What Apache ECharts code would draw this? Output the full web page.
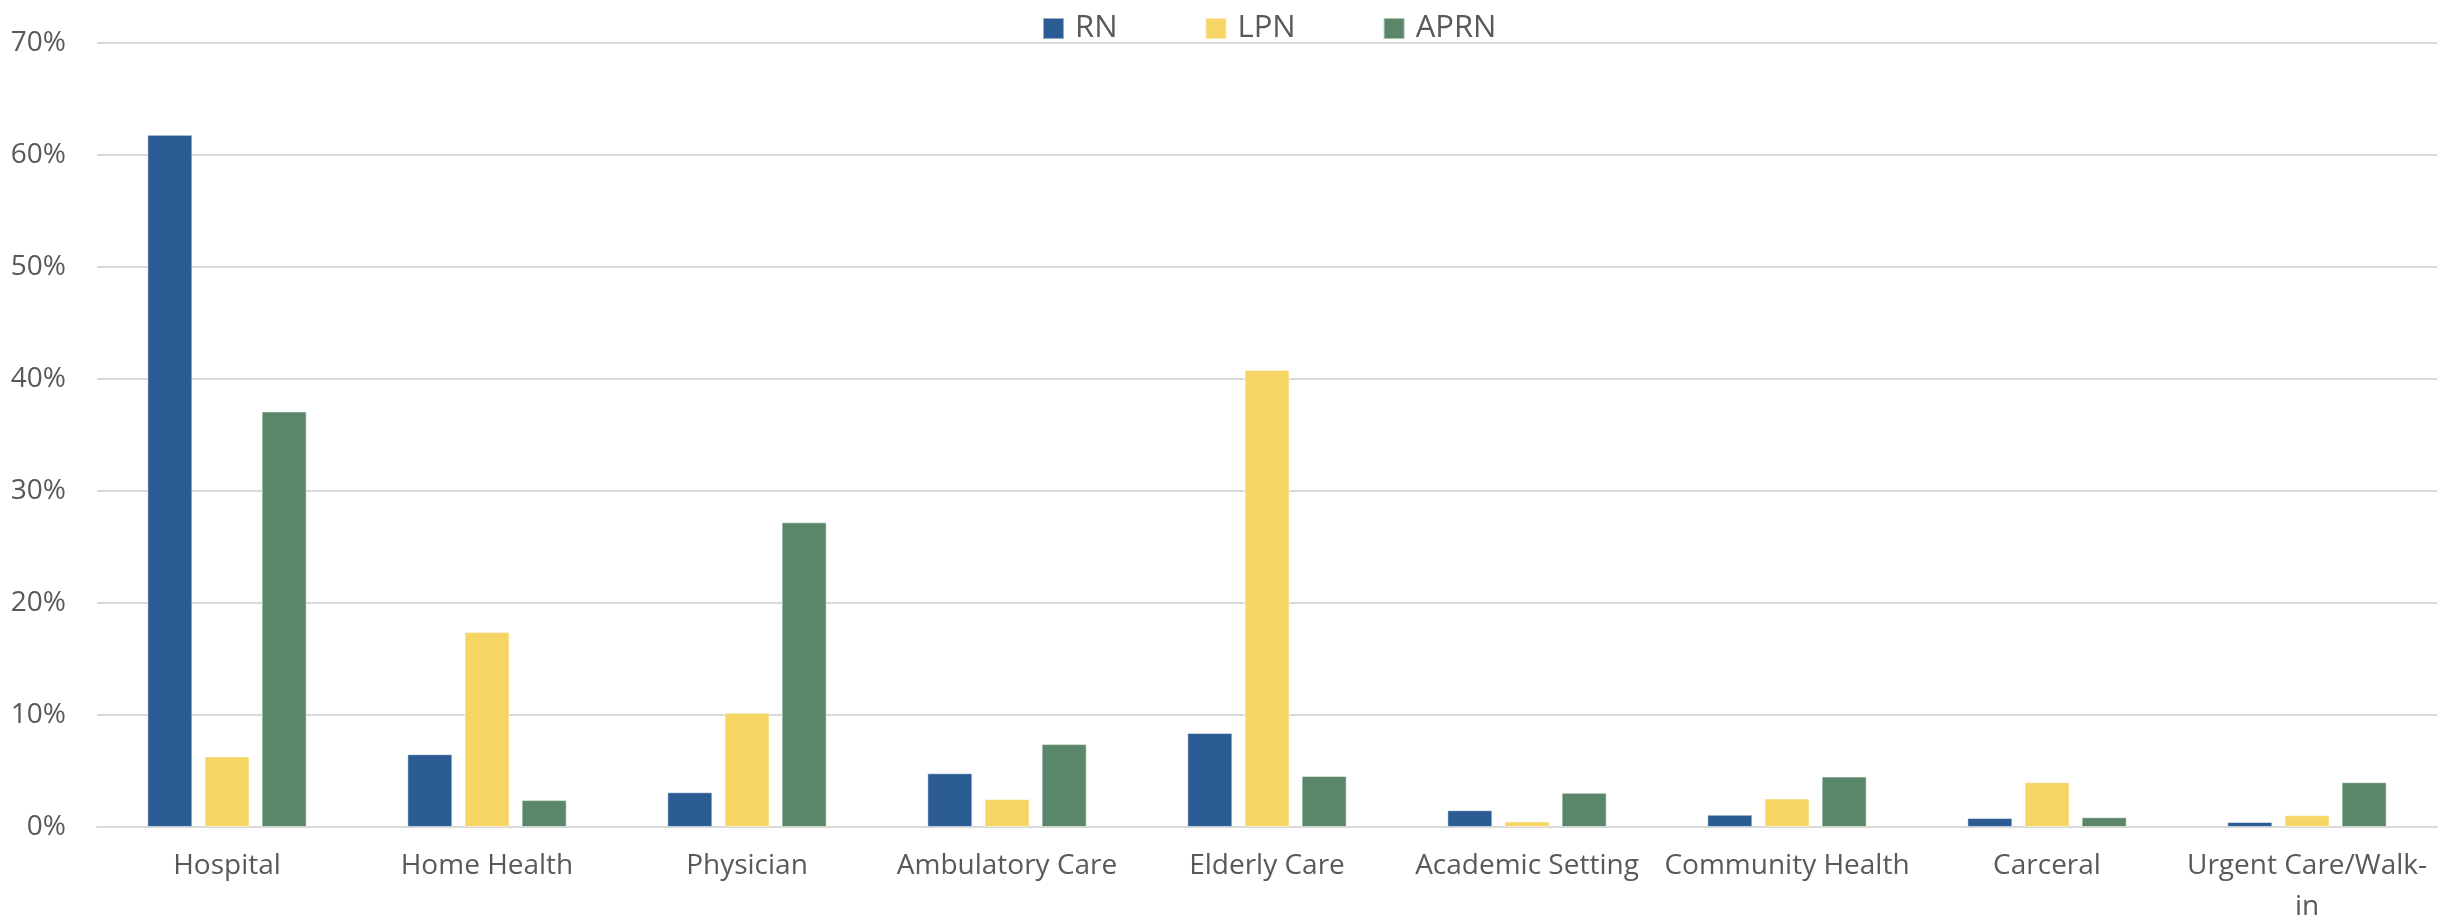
<!DOCTYPE html>
<html>
<head>
	<meta charset="UTF-8">
	<title>Nurse employment settings</title>
	<script src="https://cdn.jsdelivr.net/npm/echarts@6/dist/echarts.min.js"></script>
	<style>
		html, body { margin: 0; padding: 0; background: #fff; }
		#chart { width: 2455px; height: 920px; }
	</style>
</head>
<body>
<div id="chart"></div>
<script type="text/javascript">
	// settings on the x axis
	var categories = ['Hospital', 'Home Health', 'Physician', 'Ambulatory Care', 'Elderly Care',
		'Academic Setting', 'Community Health', 'Carceral', 'Urgent Care/Walk-\nin'];
	// percent of each license type
	var rnData   = [61.8, 6.5, 3.1, 4.8, 8.4, 1.5, 1.1, 0.8, 0.45];
	var lpnData  = [6.3, 17.4, 10.2, 2.5, 40.8, 0.5, 2.55, 4.0, 1.05];
	var aprnData = [37.1, 2.4, 27.2, 7.4, 4.55, 3.05, 4.5, 0.87, 4.0];
	var yTicks = [0, 10, 20, 30, 40, 50, 60, 70];

	var textColor = '#595959';
	var font = 'Open Sans';

	var chart = echarts.init(document.getElementById('chart'));

	function barSeries(name, data, color) {
		return {
			name: name,
			type: 'bar',
			barWidth: 45,
			barGap: '27%',
			data: data,
			itemStyle: { color: color, borderColor: 'rgba(255,255,255,0.5)', borderWidth: 1 }
		};
	}

	var option = {
		animation: false,
		backgroundColor: '#fff',
		legend: {
			top: 13,
			left: 1042,
			padding: 0,
			itemWidth: 21,
			itemHeight: 21,
			itemGap: 87,
			icon: 'rect',
			textStyle: { color: textColor, fontFamily: font, fontSize: 31, padding: [0, 0, 0, 6] },
			data: ['RN', 'LPN', 'APRN']
		},
		grid: { left: 97, right: 18, top: 43, bottom: 93, outerBoundsMode: 'none' },
		xAxis: {
			type: 'category',
			data: categories,
			axisTick: { show: false },
			axisLine: { lineStyle: { color: '#d9d9d9', width: 2 } },
			axisLabel: {
				color: textColor, fontFamily: font, fontSize: 28,
				margin: 19, lineHeight: 41, interval: 0
			}
		},
		yAxis: {
			type: 'value',
			min: yTicks[0],
			max: yTicks[yTicks.length - 1],
			interval: 10,
			axisLine: { show: false },
			axisTick: { show: false },
			splitLine: { lineStyle: { color: '#d9d9d9', width: 2 } },
			axisLabel: {
				color: textColor, fontFamily: font, fontSize: 28, margin: 31,
				formatter: '{value}%'
			}
		},
		series: [
			barSeries('RN', rnData, '#2b5c94'),
			barSeries('LPN', lpnData, '#f7d564'),
			barSeries('APRN', aprnData, '#5a8769')
		]
	};

	chart.setOption(option);
</script>
</body>
</html>
